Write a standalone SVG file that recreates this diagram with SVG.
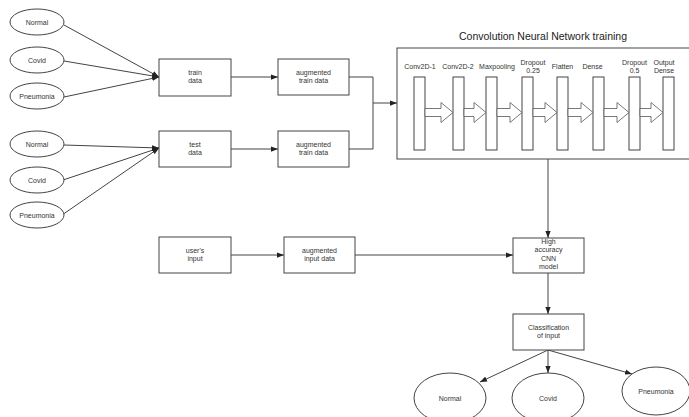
<svg xmlns="http://www.w3.org/2000/svg" width="689" height="417" viewBox="0 0 689 417">
<style>
.s{fill:#fff;stroke:#444;stroke-width:1}
.t{font-family:"Liberation Sans",Arial,sans-serif;font-size:7px;fill:#333;text-anchor:middle}
.title{font-family:"Liberation Sans",Arial,sans-serif;font-size:10.5px;fill:#222;text-anchor:middle}
.c{fill:none;stroke:#444;stroke-width:1}
.ba{fill:#fff;stroke:#555;stroke-width:0.8}
</style>
<defs>
<marker id="ah" viewBox="0 0 8 6" refX="8" refY="3" markerWidth="7" markerHeight="6" markerUnits="userSpaceOnUse" orient="auto">
<path d="M0,0 L8,3 L0,6 z" fill="#222"/>
</marker>
</defs>
<rect width="689" height="417" fill="#fff"/>

<g id="connectors">
<path class="c" d="M64,25 L159,77" marker-end="url(#ah)"/>
<path class="c" d="M64,61 L159,77" marker-end="url(#ah)"/>
<path class="c" d="M64,97 L159,77" marker-end="url(#ah)"/>
<path class="c" d="M64,145 L159,148" marker-end="url(#ah)"/>
<path class="c" d="M63,180 L159,148" marker-end="url(#ah)"/>
<path class="c" d="M62,215 L159,148" marker-end="url(#ah)"/>
<path class="c" d="M231,77 L278,77" marker-end="url(#ah)"/>
<path class="c" d="M231,149 L278,149" marker-end="url(#ah)"/>
<path class="c" d="M349,77 H373 V149 H349"/>
<path class="c" d="M373,103 L397,103" marker-end="url(#ah)"/>
<path class="c" d="M548,159 L548,238" marker-end="url(#ah)"/>
<path class="c" d="M231,255 L284,255" marker-end="url(#ah)"/>
<path class="c" d="M355,255 L513,255" marker-end="url(#ah)"/>
<path class="c" d="M548,273 L548,314" marker-end="url(#ah)"/>
<path class="c" d="M548,350 L480,382" marker-end="url(#ah)"/>
<path class="c" d="M548,350 L548,373" marker-end="url(#ah)"/>
<path class="c" d="M548,350 L632,374" marker-end="url(#ah)"/>
</g>

<g id="normal-1"><ellipse class="s" cx="37" cy="22" rx="27" ry="13"/><text class="t" x="37" y="24.5">Normal</text></g>
<g id="covid-1"><ellipse class="s" cx="37" cy="60" rx="27" ry="13"/><text class="t" x="37" y="62.5">Covid</text></g>
<g id="pneumonia-1"><ellipse class="s" cx="37" cy="96" rx="27" ry="13"/><text class="t" x="37" y="98.5">Pneumonia</text></g>
<g id="normal-2"><ellipse class="s" cx="37" cy="144" rx="27" ry="13"/><text class="t" x="37" y="146.5">Normal</text></g>
<g id="covid-2"><ellipse class="s" cx="37" cy="180" rx="27" ry="13"/><text class="t" x="37" y="182.5">Covid</text></g>
<g id="pneumonia-2"><ellipse class="s" cx="37" cy="215" rx="27" ry="13"/><text class="t" x="37" y="217.5">Pneumonia</text></g>

<g id="train-data"><rect class="s" x="159" y="59" width="72" height="37"/><text class="t" x="195" y="75">train</text><text class="t" x="195" y="83">data</text></g>
<g id="test-data"><rect class="s" x="159" y="131" width="72" height="36"/><text class="t" x="195" y="146.5">test</text><text class="t" x="195" y="154.5">data</text></g>
<g id="aug-train-1"><rect class="s" x="278" y="59" width="71" height="36"/><text class="t" x="313.5" y="75">augmented</text><text class="t" x="313.5" y="83">train data</text></g>
<g id="aug-train-2"><rect class="s" x="278" y="131" width="71" height="36"/><text class="t" x="313.5" y="146.5">augmented</text><text class="t" x="313.5" y="154.5">train data</text></g>

<g id="cnn-training">
<text class="title" x="543" y="40">Convolution Neural Network training</text>
<rect class="s" x="397" y="48" width="295" height="111"/>
<rect class="s" x="414" y="77" width="11" height="73"/>
<rect class="s" x="453" y="77" width="11" height="73"/>
<rect class="s" x="486" y="77" width="11" height="73"/>
<rect class="s" x="522" y="77" width="11" height="73"/>
<rect class="s" x="557" y="77" width="11" height="73"/>
<rect class="s" x="593" y="77" width="11" height="73"/>
<rect class="s" x="629" y="77" width="11" height="73"/>
<rect class="s" x="663" y="77" width="11" height="73"/>
<path class="ba" d="M425,108.5 H441 V102.5 L453,112.5 L441,122.5 V116.5 H425 Z"/>
<path class="ba" d="M464,108.5 H474 V102.5 L486,112.5 L474,122.5 V116.5 H464 Z"/>
<path class="ba" d="M497,108.5 H510 V102.5 L522,112.5 L510,122.5 V116.5 H497 Z"/>
<path class="ba" d="M533,108.5 H545 V102.5 L557,112.5 L545,122.5 V116.5 H533 Z"/>
<path class="ba" d="M568,108.5 H581 V102.5 L593,112.5 L581,122.5 V116.5 H568 Z"/>
<path class="ba" d="M604,108.5 H617 V102.5 L629,112.5 L617,122.5 V116.5 H604 Z"/>
<path class="ba" d="M640,108.5 H651 V102.5 L663,112.5 L651,122.5 V116.5 H640 Z"/>
<text class="t" x="420" y="69">Conv2D-1</text>
<text class="t" x="458" y="69">Conv2D-2</text>
<text class="t" x="497" y="69">Maxpooling</text>
<text class="t" x="533" y="64.5">Dropout</text><text class="t" x="533" y="72.5">0.25</text>
<text class="t" x="562.5" y="69">Flatten</text>
<text class="t" x="592.5" y="69">Dense</text>
<text class="t" x="634.5" y="64.5">Dropout</text><text class="t" x="634.5" y="72.5">0.5</text>
<text class="t" x="664" y="64.5">Output</text><text class="t" x="664" y="72.5">Dense</text>
</g>

<g id="users-input"><rect class="s" x="159" y="237" width="72" height="36"/><text class="t" x="195" y="252.5">user's</text><text class="t" x="195" y="260.5">input</text></g>
<g id="aug-input"><rect class="s" x="284" y="237" width="71" height="36"/><text class="t" x="319.5" y="252.5">augmented</text><text class="t" x="319.5" y="260.5">input data</text></g>
<g id="cnn-model"><rect class="s" x="513" y="238" width="71" height="35"/>
<text class="t" x="548.5" y="243.5">High</text><text class="t" x="548.5" y="252">accuracy</text><text class="t" x="548.5" y="260.5">CNN</text><text class="t" x="548.5" y="269">model</text></g>
<g id="classification"><rect class="s" x="513" y="314" width="71" height="36"/><text class="t" x="548.5" y="329.5">Classification</text><text class="t" x="548.5" y="337.5">of input</text></g>

<g id="out-normal"><ellipse class="s" cx="450" cy="398" rx="36" ry="25"/><text class="t" x="450" y="400.5">Normal</text></g>
<g id="out-covid"><ellipse class="s" cx="548" cy="398" rx="36" ry="25"/><text class="t" x="548" y="400.5">Covid</text></g>
<g id="out-pneumonia"><ellipse class="s" cx="656" cy="391" rx="34" ry="24"/><text class="t" x="656" y="393.5">Pneumonia</text></g>
</svg>
